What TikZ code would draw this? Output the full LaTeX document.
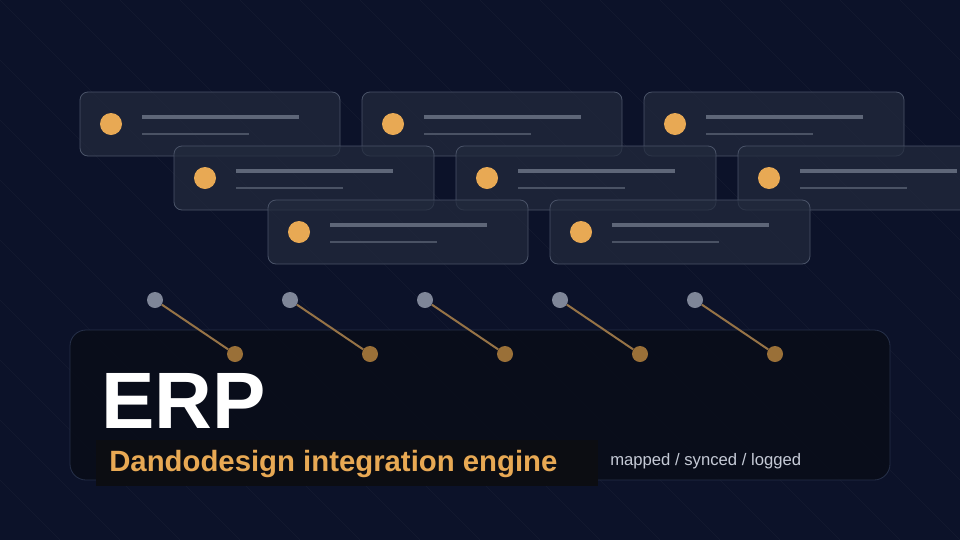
\documentclass[tikz,border=0pt]{standalone}
\usepackage{fontspec}
\setmainfont{Liberation Sans}
\definecolor{bgnavy}{HTML}{0C1229}
\definecolor{panelbg}{HTML}{090D19}
\definecolor{panelrim}{HTML}{263049}
\definecolor{cardbg}{HTML}{222A3D}
\definecolor{cardrim}{HTML}{4A5368}
\definecolor{amber}{HTML}{E8A954}
\definecolor{bronze}{HTML}{9A7038}
\definecolor{slate}{HTML}{7F8698}
\definecolor{barlight}{HTML}{5E6678}
\definecolor{bardark}{HTML}{4A5264}
\definecolor{capbg}{HTML}{0C0D12}
\definecolor{softtext}{HTML}{C5CAD6}
\begin{document}
\begin{tikzpicture}[x=0.75pt,y=-0.75pt,
    card/.style={draw=cardrim,fill=cardbg,fill opacity=0.75,rounded corners=6pt,line width=0.6pt},
    carddot/.style={circle,fill=amber,minimum size=16.5pt,inner sep=0pt},
    srcdot/.style={circle,fill=slate,minimum size=12pt,inner sep=0pt},
    dstdot/.style={circle,fill=bronze,minimum size=12pt,inner sep=0pt},
    link/.style={draw=bronze!85!slate,line width=1.5pt}]

  % background
  \fill[bgnavy] (0,0) rectangle (960,540);
  \useasboundingbox (0,0) rectangle (960,540);
  \begin{scope}
    \clip (0,0) rectangle (960,540);
    \foreach \s in {-600,-540,...,960}
      \draw[white,opacity=0.04,line width=0.5pt] (\s,0) -- (\s+540,540);
  \end{scope}

  % record cards
  \foreach \cx/\cy/\nm in {80/92/a,362/92/b,644/92/c,174/146/d,456/146/e,738/146/f,268/200/g,550/200/h} {
    \draw[card] (\cx,\cy) rectangle (\cx+260,\cy+64);
    \node[carddot] (dot-\nm) at (\cx+31,\cy+32) {};
    \draw[barlight,line width=3pt] (\cx+62,\cy+25) -- (\cx+219,\cy+25);
    \draw[bardark,line width=2.2pt] (\cx+62,\cy+42) -- (\cx+169,\cy+42);
  }

  % panel
  \draw[panelrim,fill=panelbg,fill opacity=0.9,rounded corners=12pt,line width=0.6pt]
    (70,330) rectangle (890,480);

  % field mappings
  \foreach \k in {0,...,4} {
    \node[srcdot] (src\k) at (155+135*\k,300) {};
    \node[dstdot] (dst\k) at (235+135*\k,354) {};
    \draw[link] (src\k) -- (dst\k);
  }

  \fill[capbg] (96,440) rectangle (598,486);
  \node[anchor=base west,text=white,font=\bfseries\fontsize{60}{60}\selectfont,inner sep=0pt]
    (title) at (101,428) {ERP};
  \node[anchor=base west,text=amber,font=\bfseries\fontsize{22}{22}\selectfont,inner sep=0pt]
    (subtitle) at (109,471) {Dandodesign integration engine};
  \node[anchor=base west,text=softtext,font=\fontsize{12.5}{12.5}\selectfont,inner sep=0pt]
    (tagline) at (610,465) {mapped / synced / logged};
\end{tikzpicture}
\end{document}
